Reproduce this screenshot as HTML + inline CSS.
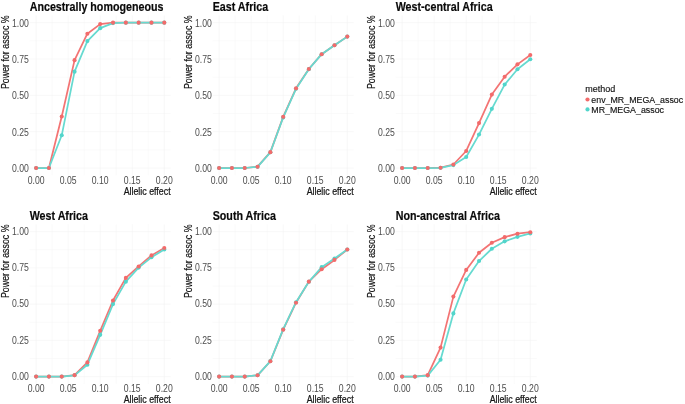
<!DOCTYPE html>
<html><head><meta charset="utf-8"><title>Power for assoc</title>
<style>
html,body{margin:0;padding:0;background:#fff;}
svg{display:block;will-change:transform;font-family:"Liberation Sans",sans-serif;}
</style></head><body>
<svg width="685" height="404" viewBox="0 0 685 404">
<rect width="685" height="404" fill="#fff"/>
<g><!-- panel 0: Ancestrally homogeneous -->
<path d="M52.12 15.38V175.27M84.17 15.38V175.27M116.22 15.38V175.27M148.27 15.38V175.27M29.69 149.83H170.71M29.69 113.49H170.71M29.69 77.16H170.71M29.69 40.82H170.71" stroke="#f5f5f5" stroke-width="0.55" fill="none"/>
<path d="M36.10 15.38V175.27M68.15 15.38V175.27M100.20 15.38V175.27M132.25 15.38V175.27M164.30 15.38V175.27M29.69 168.00H170.71M29.69 131.66H170.71M29.69 95.33H170.71M29.69 58.99H170.71M29.69 22.65H170.71" stroke="#f3f3f3" stroke-width="0.55" fill="none"/>
<polyline points="36.10,168.00 48.92,168.00 61.74,116.55 74.56,60.15 87.38,33.70 100.20,24.10 113.02,22.65 125.84,22.65 138.66,22.65 151.48,22.65 164.30,22.65" fill="none" stroke="#F37474" stroke-width="1.75" stroke-linejoin="round" stroke-linecap="butt"/>
<polyline points="36.10,168.00 48.92,168.00 61.74,135.30 74.56,71.63 87.38,41.11 100.20,28.17 113.02,23.09 125.84,22.65 138.66,22.65 151.48,22.65 164.30,22.65" fill="none" stroke="#66DAD0" stroke-width="1.75" stroke-linejoin="round" stroke-linecap="butt"/>
<g fill="#52D5CB"><circle cx="36.10" cy="168.00" r="2.05"/><circle cx="48.92" cy="168.00" r="2.05"/><circle cx="61.74" cy="135.30" r="2.05"/><circle cx="74.56" cy="71.63" r="2.05"/><circle cx="87.38" cy="41.11" r="2.05"/><circle cx="100.20" cy="28.17" r="2.05"/><circle cx="113.02" cy="23.09" r="2.05"/><circle cx="125.84" cy="22.65" r="2.05"/><circle cx="138.66" cy="22.65" r="2.05"/><circle cx="151.48" cy="22.65" r="2.05"/><circle cx="164.30" cy="22.65" r="2.05"/></g>
<g fill="#F26B6B"><circle cx="36.10" cy="168.00" r="2.05"/><circle cx="48.92" cy="168.00" r="2.05"/><circle cx="61.74" cy="116.55" r="2.05"/><circle cx="74.56" cy="60.15" r="2.05"/><circle cx="87.38" cy="33.70" r="2.05"/><circle cx="100.20" cy="24.10" r="2.05"/><circle cx="113.02" cy="22.65" r="2.05"/><circle cx="125.84" cy="22.65" r="2.05"/><circle cx="138.66" cy="22.65" r="2.05"/><circle cx="151.48" cy="22.65" r="2.05"/><circle cx="164.30" cy="22.65" r="2.05"/></g>
<text transform="translate(29.69,10.85) scale(0.83,1)" font-size="12.9" font-weight="bold" text-anchor="start" fill="#0a0a0a" stroke="#0a0a0a" stroke-width="0.2">Ancestrally homogeneous</text>
<text transform="translate(28.89,171.90) scale(0.775,1)" font-size="11.2" font-weight="normal" text-anchor="end" fill="#4d4d4d">0.00</text>
<text transform="translate(28.89,135.56) scale(0.775,1)" font-size="11.2" font-weight="normal" text-anchor="end" fill="#4d4d4d">0.25</text>
<text transform="translate(28.89,99.23) scale(0.775,1)" font-size="11.2" font-weight="normal" text-anchor="end" fill="#4d4d4d">0.50</text>
<text transform="translate(28.89,62.89) scale(0.775,1)" font-size="11.2" font-weight="normal" text-anchor="end" fill="#4d4d4d">0.75</text>
<text transform="translate(28.89,26.55) scale(0.775,1)" font-size="11.2" font-weight="normal" text-anchor="end" fill="#4d4d4d">1.00</text>
<text transform="translate(36.10,184.07) scale(0.775,1)" font-size="11.2" font-weight="normal" text-anchor="middle" fill="#4d4d4d">0.00</text>
<text transform="translate(68.15,184.07) scale(0.775,1)" font-size="11.2" font-weight="normal" text-anchor="middle" fill="#4d4d4d">0.05</text>
<text transform="translate(100.20,184.07) scale(0.775,1)" font-size="11.2" font-weight="normal" text-anchor="middle" fill="#4d4d4d">0.10</text>
<text transform="translate(132.25,184.07) scale(0.775,1)" font-size="11.2" font-weight="normal" text-anchor="middle" fill="#4d4d4d">0.15</text>
<text transform="translate(164.30,184.07) scale(0.775,1)" font-size="11.2" font-weight="normal" text-anchor="middle" fill="#4d4d4d">0.20</text>
<text transform="translate(170.61,194.67) scale(0.79,1)" font-size="11.2" font-weight="normal" text-anchor="end" fill="#151515" stroke="#151515" stroke-width="0.25">Allelic effect</text>
<text transform="translate(9.19,15.38) rotate(-90) scale(0.79,1)" font-size="11.2" font-weight="normal" text-anchor="end" fill="#111" stroke="#111" stroke-width="0.18">Power for assoc %</text>
</g>
<g><!-- panel 1: East Africa -->
<path d="M235.12 15.38V175.27M267.17 15.38V175.27M299.23 15.38V175.27M331.27 15.38V175.27M212.69 149.83H353.71M212.69 113.49H353.71M212.69 77.16H353.71M212.69 40.82H353.71" stroke="#f5f5f5" stroke-width="0.55" fill="none"/>
<path d="M219.10 15.38V175.27M251.15 15.38V175.27M283.20 15.38V175.27M315.25 15.38V175.27M347.30 15.38V175.27M212.69 168.00H353.71M212.69 131.66H353.71M212.69 95.33H353.71M212.69 58.99H353.71M212.69 22.65H353.71" stroke="#f3f3f3" stroke-width="0.55" fill="none"/>
<polyline points="219.10,168.00 231.92,168.00 244.74,168.00 257.56,166.69 270.38,152.16 283.20,116.84 296.02,88.35 308.84,69.02 321.66,54.19 334.48,45.32 347.30,36.60" fill="none" stroke="#F37474" stroke-width="1.75" stroke-linejoin="round" stroke-linecap="butt"/>
<polyline points="219.10,168.00 231.92,168.00 244.74,168.00 257.56,166.84 270.38,152.30 283.20,117.42 296.02,88.78 308.84,69.16 321.66,54.19 334.48,45.32 347.30,36.60" fill="none" stroke="#66DAD0" stroke-width="1.75" stroke-linejoin="round" stroke-linecap="butt"/>
<g fill="#52D5CB"><circle cx="219.10" cy="168.00" r="2.05"/><circle cx="231.92" cy="168.00" r="2.05"/><circle cx="244.74" cy="168.00" r="2.05"/><circle cx="257.56" cy="166.84" r="2.05"/><circle cx="270.38" cy="152.30" r="2.05"/><circle cx="283.20" cy="117.42" r="2.05"/><circle cx="296.02" cy="88.78" r="2.05"/><circle cx="308.84" cy="69.16" r="2.05"/><circle cx="321.66" cy="54.19" r="2.05"/><circle cx="334.48" cy="45.32" r="2.05"/><circle cx="347.30" cy="36.60" r="2.05"/></g>
<g fill="#F26B6B"><circle cx="219.10" cy="168.00" r="2.05"/><circle cx="231.92" cy="168.00" r="2.05"/><circle cx="244.74" cy="168.00" r="2.05"/><circle cx="257.56" cy="166.69" r="2.05"/><circle cx="270.38" cy="152.16" r="2.05"/><circle cx="283.20" cy="116.84" r="2.05"/><circle cx="296.02" cy="88.35" r="2.05"/><circle cx="308.84" cy="69.02" r="2.05"/><circle cx="321.66" cy="54.19" r="2.05"/><circle cx="334.48" cy="45.32" r="2.05"/><circle cx="347.30" cy="36.60" r="2.05"/></g>
<text transform="translate(212.69,10.85) scale(0.83,1)" font-size="12.9" font-weight="bold" text-anchor="start" fill="#0a0a0a" stroke="#0a0a0a" stroke-width="0.2">East Africa</text>
<text transform="translate(211.89,171.90) scale(0.775,1)" font-size="11.2" font-weight="normal" text-anchor="end" fill="#4d4d4d">0.00</text>
<text transform="translate(211.89,135.56) scale(0.775,1)" font-size="11.2" font-weight="normal" text-anchor="end" fill="#4d4d4d">0.25</text>
<text transform="translate(211.89,99.23) scale(0.775,1)" font-size="11.2" font-weight="normal" text-anchor="end" fill="#4d4d4d">0.50</text>
<text transform="translate(211.89,62.89) scale(0.775,1)" font-size="11.2" font-weight="normal" text-anchor="end" fill="#4d4d4d">0.75</text>
<text transform="translate(211.89,26.55) scale(0.775,1)" font-size="11.2" font-weight="normal" text-anchor="end" fill="#4d4d4d">1.00</text>
<text transform="translate(219.10,184.07) scale(0.775,1)" font-size="11.2" font-weight="normal" text-anchor="middle" fill="#4d4d4d">0.00</text>
<text transform="translate(251.15,184.07) scale(0.775,1)" font-size="11.2" font-weight="normal" text-anchor="middle" fill="#4d4d4d">0.05</text>
<text transform="translate(283.20,184.07) scale(0.775,1)" font-size="11.2" font-weight="normal" text-anchor="middle" fill="#4d4d4d">0.10</text>
<text transform="translate(315.25,184.07) scale(0.775,1)" font-size="11.2" font-weight="normal" text-anchor="middle" fill="#4d4d4d">0.15</text>
<text transform="translate(347.30,184.07) scale(0.775,1)" font-size="11.2" font-weight="normal" text-anchor="middle" fill="#4d4d4d">0.20</text>
<text transform="translate(353.61,194.67) scale(0.79,1)" font-size="11.2" font-weight="normal" text-anchor="end" fill="#151515" stroke="#151515" stroke-width="0.25">Allelic effect</text>
<text transform="translate(191.59,15.38) rotate(-90) scale(0.79,1)" font-size="11.2" font-weight="normal" text-anchor="end" fill="#111" stroke="#111" stroke-width="0.18">Power for assoc %</text>
</g>
<g><!-- panel 2: West-central Africa -->
<path d="M418.12 15.38V175.27M450.18 15.38V175.27M482.23 15.38V175.27M514.27 15.38V175.27M395.69 149.83H536.71M395.69 113.49H536.71M395.69 77.16H536.71M395.69 40.82H536.71" stroke="#f5f5f5" stroke-width="0.55" fill="none"/>
<path d="M402.10 15.38V175.27M434.15 15.38V175.27M466.20 15.38V175.27M498.25 15.38V175.27M530.30 15.38V175.27M395.69 168.00H536.71M395.69 131.66H536.71M395.69 95.33H536.71M395.69 58.99H536.71M395.69 22.65H536.71" stroke="#f3f3f3" stroke-width="0.55" fill="none"/>
<polyline points="402.10,168.00 414.92,168.00 427.74,168.00 440.56,167.71 453.38,164.51 466.20,150.99 479.02,123.09 491.84,94.60 504.66,76.72 517.48,64.37 530.30,55.06" fill="none" stroke="#F37474" stroke-width="1.75" stroke-linejoin="round" stroke-linecap="butt"/>
<polyline points="402.10,168.00 414.92,168.00 427.74,168.00 440.56,167.85 453.38,165.09 466.20,156.95 479.02,134.57 491.84,108.84 504.66,84.57 517.48,69.31 530.30,59.28" fill="none" stroke="#66DAD0" stroke-width="1.75" stroke-linejoin="round" stroke-linecap="butt"/>
<g fill="#52D5CB"><circle cx="402.10" cy="168.00" r="2.05"/><circle cx="414.92" cy="168.00" r="2.05"/><circle cx="427.74" cy="168.00" r="2.05"/><circle cx="440.56" cy="167.85" r="2.05"/><circle cx="453.38" cy="165.09" r="2.05"/><circle cx="466.20" cy="156.95" r="2.05"/><circle cx="479.02" cy="134.57" r="2.05"/><circle cx="491.84" cy="108.84" r="2.05"/><circle cx="504.66" cy="84.57" r="2.05"/><circle cx="517.48" cy="69.31" r="2.05"/><circle cx="530.30" cy="59.28" r="2.05"/></g>
<g fill="#F26B6B"><circle cx="402.10" cy="168.00" r="2.05"/><circle cx="414.92" cy="168.00" r="2.05"/><circle cx="427.74" cy="168.00" r="2.05"/><circle cx="440.56" cy="167.71" r="2.05"/><circle cx="453.38" cy="164.51" r="2.05"/><circle cx="466.20" cy="150.99" r="2.05"/><circle cx="479.02" cy="123.09" r="2.05"/><circle cx="491.84" cy="94.60" r="2.05"/><circle cx="504.66" cy="76.72" r="2.05"/><circle cx="517.48" cy="64.37" r="2.05"/><circle cx="530.30" cy="55.06" r="2.05"/></g>
<text transform="translate(395.69,10.85) scale(0.83,1)" font-size="12.9" font-weight="bold" text-anchor="start" fill="#0a0a0a" stroke="#0a0a0a" stroke-width="0.2">West-central Africa</text>
<text transform="translate(394.89,171.90) scale(0.775,1)" font-size="11.2" font-weight="normal" text-anchor="end" fill="#4d4d4d">0.00</text>
<text transform="translate(394.89,135.56) scale(0.775,1)" font-size="11.2" font-weight="normal" text-anchor="end" fill="#4d4d4d">0.25</text>
<text transform="translate(394.89,99.23) scale(0.775,1)" font-size="11.2" font-weight="normal" text-anchor="end" fill="#4d4d4d">0.50</text>
<text transform="translate(394.89,62.89) scale(0.775,1)" font-size="11.2" font-weight="normal" text-anchor="end" fill="#4d4d4d">0.75</text>
<text transform="translate(394.89,26.55) scale(0.775,1)" font-size="11.2" font-weight="normal" text-anchor="end" fill="#4d4d4d">1.00</text>
<text transform="translate(402.10,184.07) scale(0.775,1)" font-size="11.2" font-weight="normal" text-anchor="middle" fill="#4d4d4d">0.00</text>
<text transform="translate(434.15,184.07) scale(0.775,1)" font-size="11.2" font-weight="normal" text-anchor="middle" fill="#4d4d4d">0.05</text>
<text transform="translate(466.20,184.07) scale(0.775,1)" font-size="11.2" font-weight="normal" text-anchor="middle" fill="#4d4d4d">0.10</text>
<text transform="translate(498.25,184.07) scale(0.775,1)" font-size="11.2" font-weight="normal" text-anchor="middle" fill="#4d4d4d">0.15</text>
<text transform="translate(530.30,184.07) scale(0.775,1)" font-size="11.2" font-weight="normal" text-anchor="middle" fill="#4d4d4d">0.20</text>
<text transform="translate(536.61,194.67) scale(0.79,1)" font-size="11.2" font-weight="normal" text-anchor="end" fill="#151515" stroke="#151515" stroke-width="0.25">Allelic effect</text>
<text transform="translate(374.59,15.38) rotate(-90) scale(0.79,1)" font-size="11.2" font-weight="normal" text-anchor="end" fill="#111" stroke="#111" stroke-width="0.18">Power for assoc %</text>
</g>
<g><!-- panel 3: West Africa -->
<path d="M52.12 224.40V383.85M84.17 224.40V383.85M116.22 224.40V383.85M148.27 224.40V383.85M29.69 358.48H170.71M29.69 322.24H170.71M29.69 286.01H170.71M29.69 249.77H170.71" stroke="#f5f5f5" stroke-width="0.55" fill="none"/>
<path d="M36.10 224.40V383.85M68.15 224.40V383.85M100.20 224.40V383.85M132.25 224.40V383.85M164.30 224.40V383.85M29.69 376.60H170.71M29.69 340.36H170.71M29.69 304.12H170.71M29.69 267.89H170.71M29.69 231.65H170.71" stroke="#f3f3f3" stroke-width="0.55" fill="none"/>
<polyline points="36.10,376.60 48.92,376.60 61.74,376.60 74.56,375.15 87.38,362.39 100.20,330.80 113.02,300.50 125.84,277.89 138.66,266.44 151.48,255.42 164.30,248.03" fill="none" stroke="#F37474" stroke-width="1.75" stroke-linejoin="round" stroke-linecap="butt"/>
<polyline points="36.10,376.60 48.92,376.60 61.74,376.60 74.56,375.30 87.38,364.71 100.20,334.85 113.02,304.12 125.84,281.66 138.66,267.60 151.48,257.31 164.30,249.48" fill="none" stroke="#66DAD0" stroke-width="1.75" stroke-linejoin="round" stroke-linecap="butt"/>
<g fill="#52D5CB"><circle cx="36.10" cy="376.60" r="2.05"/><circle cx="48.92" cy="376.60" r="2.05"/><circle cx="61.74" cy="376.60" r="2.05"/><circle cx="74.56" cy="375.30" r="2.05"/><circle cx="87.38" cy="364.71" r="2.05"/><circle cx="100.20" cy="334.85" r="2.05"/><circle cx="113.02" cy="304.12" r="2.05"/><circle cx="125.84" cy="281.66" r="2.05"/><circle cx="138.66" cy="267.60" r="2.05"/><circle cx="151.48" cy="257.31" r="2.05"/><circle cx="164.30" cy="249.48" r="2.05"/></g>
<g fill="#F26B6B"><circle cx="36.10" cy="376.60" r="2.05"/><circle cx="48.92" cy="376.60" r="2.05"/><circle cx="61.74" cy="376.60" r="2.05"/><circle cx="74.56" cy="375.15" r="2.05"/><circle cx="87.38" cy="362.39" r="2.05"/><circle cx="100.20" cy="330.80" r="2.05"/><circle cx="113.02" cy="300.50" r="2.05"/><circle cx="125.84" cy="277.89" r="2.05"/><circle cx="138.66" cy="266.44" r="2.05"/><circle cx="151.48" cy="255.42" r="2.05"/><circle cx="164.30" cy="248.03" r="2.05"/></g>
<text transform="translate(29.69,219.85) scale(0.83,1)" font-size="12.9" font-weight="bold" text-anchor="start" fill="#0a0a0a" stroke="#0a0a0a" stroke-width="0.2">West Africa</text>
<text transform="translate(28.89,379.90) scale(0.775,1)" font-size="11.2" font-weight="normal" text-anchor="end" fill="#4d4d4d">0.00</text>
<text transform="translate(28.89,343.66) scale(0.775,1)" font-size="11.2" font-weight="normal" text-anchor="end" fill="#4d4d4d">0.25</text>
<text transform="translate(28.89,307.42) scale(0.775,1)" font-size="11.2" font-weight="normal" text-anchor="end" fill="#4d4d4d">0.50</text>
<text transform="translate(28.89,271.19) scale(0.775,1)" font-size="11.2" font-weight="normal" text-anchor="end" fill="#4d4d4d">0.75</text>
<text transform="translate(28.89,234.95) scale(0.775,1)" font-size="11.2" font-weight="normal" text-anchor="end" fill="#4d4d4d">1.00</text>
<text transform="translate(36.10,392.05) scale(0.775,1)" font-size="11.2" font-weight="normal" text-anchor="middle" fill="#4d4d4d">0.00</text>
<text transform="translate(68.15,392.05) scale(0.775,1)" font-size="11.2" font-weight="normal" text-anchor="middle" fill="#4d4d4d">0.05</text>
<text transform="translate(100.20,392.05) scale(0.775,1)" font-size="11.2" font-weight="normal" text-anchor="middle" fill="#4d4d4d">0.10</text>
<text transform="translate(132.25,392.05) scale(0.775,1)" font-size="11.2" font-weight="normal" text-anchor="middle" fill="#4d4d4d">0.15</text>
<text transform="translate(164.30,392.05) scale(0.775,1)" font-size="11.2" font-weight="normal" text-anchor="middle" fill="#4d4d4d">0.20</text>
<text transform="translate(170.61,402.65) scale(0.79,1)" font-size="11.2" font-weight="normal" text-anchor="end" fill="#151515" stroke="#151515" stroke-width="0.25">Allelic effect</text>
<text transform="translate(9.19,224.40) rotate(-90) scale(0.79,1)" font-size="11.2" font-weight="normal" text-anchor="end" fill="#111" stroke="#111" stroke-width="0.18">Power for assoc %</text>
</g>
<g><!-- panel 4: South Africa -->
<path d="M235.12 224.40V383.85M267.17 224.40V383.85M299.23 224.40V383.85M331.27 224.40V383.85M212.69 358.48H353.71M212.69 322.24H353.71M212.69 286.01H353.71M212.69 249.77H353.71" stroke="#f5f5f5" stroke-width="0.55" fill="none"/>
<path d="M219.10 224.40V383.85M251.15 224.40V383.85M283.20 224.40V383.85M315.25 224.40V383.85M347.30 224.40V383.85M212.69 376.60H353.71M212.69 340.36H353.71M212.69 304.12H353.71M212.69 267.89H353.71M212.69 231.65H353.71" stroke="#f3f3f3" stroke-width="0.55" fill="none"/>
<polyline points="219.10,376.60 231.92,376.60 244.74,376.60 257.56,375.30 270.38,361.24 283.20,329.64 296.02,302.68 308.84,281.66 321.66,269.19 334.48,259.92 347.30,249.48" fill="none" stroke="#F37474" stroke-width="1.75" stroke-linejoin="round" stroke-linecap="butt"/>
<polyline points="219.10,376.60 231.92,376.60 244.74,376.60 257.56,375.30 270.38,361.09 283.20,329.20 296.02,302.24 308.84,281.80 321.66,267.16 334.48,258.47 347.30,249.48" fill="none" stroke="#66DAD0" stroke-width="1.75" stroke-linejoin="round" stroke-linecap="butt"/>
<g fill="#52D5CB"><circle cx="219.10" cy="376.60" r="2.05"/><circle cx="231.92" cy="376.60" r="2.05"/><circle cx="244.74" cy="376.60" r="2.05"/><circle cx="257.56" cy="375.30" r="2.05"/><circle cx="270.38" cy="361.09" r="2.05"/><circle cx="283.20" cy="329.20" r="2.05"/><circle cx="296.02" cy="302.24" r="2.05"/><circle cx="308.84" cy="281.80" r="2.05"/><circle cx="321.66" cy="267.16" r="2.05"/><circle cx="334.48" cy="258.47" r="2.05"/><circle cx="347.30" cy="249.48" r="2.05"/></g>
<g fill="#F26B6B"><circle cx="219.10" cy="376.60" r="2.05"/><circle cx="231.92" cy="376.60" r="2.05"/><circle cx="244.74" cy="376.60" r="2.05"/><circle cx="257.56" cy="375.30" r="2.05"/><circle cx="270.38" cy="361.24" r="2.05"/><circle cx="283.20" cy="329.64" r="2.05"/><circle cx="296.02" cy="302.68" r="2.05"/><circle cx="308.84" cy="281.66" r="2.05"/><circle cx="321.66" cy="269.19" r="2.05"/><circle cx="334.48" cy="259.92" r="2.05"/><circle cx="347.30" cy="249.48" r="2.05"/></g>
<text transform="translate(212.69,219.85) scale(0.83,1)" font-size="12.9" font-weight="bold" text-anchor="start" fill="#0a0a0a" stroke="#0a0a0a" stroke-width="0.2">South Africa</text>
<text transform="translate(211.89,379.90) scale(0.775,1)" font-size="11.2" font-weight="normal" text-anchor="end" fill="#4d4d4d">0.00</text>
<text transform="translate(211.89,343.66) scale(0.775,1)" font-size="11.2" font-weight="normal" text-anchor="end" fill="#4d4d4d">0.25</text>
<text transform="translate(211.89,307.42) scale(0.775,1)" font-size="11.2" font-weight="normal" text-anchor="end" fill="#4d4d4d">0.50</text>
<text transform="translate(211.89,271.19) scale(0.775,1)" font-size="11.2" font-weight="normal" text-anchor="end" fill="#4d4d4d">0.75</text>
<text transform="translate(211.89,234.95) scale(0.775,1)" font-size="11.2" font-weight="normal" text-anchor="end" fill="#4d4d4d">1.00</text>
<text transform="translate(219.10,392.05) scale(0.775,1)" font-size="11.2" font-weight="normal" text-anchor="middle" fill="#4d4d4d">0.00</text>
<text transform="translate(251.15,392.05) scale(0.775,1)" font-size="11.2" font-weight="normal" text-anchor="middle" fill="#4d4d4d">0.05</text>
<text transform="translate(283.20,392.05) scale(0.775,1)" font-size="11.2" font-weight="normal" text-anchor="middle" fill="#4d4d4d">0.10</text>
<text transform="translate(315.25,392.05) scale(0.775,1)" font-size="11.2" font-weight="normal" text-anchor="middle" fill="#4d4d4d">0.15</text>
<text transform="translate(347.30,392.05) scale(0.775,1)" font-size="11.2" font-weight="normal" text-anchor="middle" fill="#4d4d4d">0.20</text>
<text transform="translate(353.61,402.65) scale(0.79,1)" font-size="11.2" font-weight="normal" text-anchor="end" fill="#151515" stroke="#151515" stroke-width="0.25">Allelic effect</text>
<text transform="translate(191.59,224.40) rotate(-90) scale(0.79,1)" font-size="11.2" font-weight="normal" text-anchor="end" fill="#111" stroke="#111" stroke-width="0.18">Power for assoc %</text>
</g>
<g><!-- panel 5: Non-ancestral Africa -->
<path d="M418.12 224.40V383.85M450.18 224.40V383.85M482.23 224.40V383.85M514.27 224.40V383.85M395.69 358.48H536.71M395.69 322.24H536.71M395.69 286.01H536.71M395.69 249.77H536.71" stroke="#f5f5f5" stroke-width="0.55" fill="none"/>
<path d="M402.10 224.40V383.85M434.15 224.40V383.85M466.20 224.40V383.85M498.25 224.40V383.85M530.30 224.40V383.85M395.69 376.60H536.71M395.69 340.36H536.71M395.69 304.12H536.71M395.69 267.89H536.71M395.69 231.65H536.71" stroke="#f3f3f3" stroke-width="0.55" fill="none"/>
<polyline points="402.10,376.60 414.92,376.60 427.74,375.15 440.56,347.61 453.38,296.59 466.20,269.92 479.02,252.81 491.84,242.81 504.66,237.16 517.48,233.68 530.30,232.23" fill="none" stroke="#F37474" stroke-width="1.75" stroke-linejoin="round" stroke-linecap="butt"/>
<polyline points="402.10,376.60 414.92,376.60 427.74,375.59 440.56,359.79 453.38,313.40 466.20,279.48 479.02,261.07 491.84,248.75 504.66,241.36 517.48,236.87 530.30,233.39" fill="none" stroke="#66DAD0" stroke-width="1.75" stroke-linejoin="round" stroke-linecap="butt"/>
<g fill="#52D5CB"><circle cx="402.10" cy="376.60" r="2.05"/><circle cx="414.92" cy="376.60" r="2.05"/><circle cx="427.74" cy="375.59" r="2.05"/><circle cx="440.56" cy="359.79" r="2.05"/><circle cx="453.38" cy="313.40" r="2.05"/><circle cx="466.20" cy="279.48" r="2.05"/><circle cx="479.02" cy="261.07" r="2.05"/><circle cx="491.84" cy="248.75" r="2.05"/><circle cx="504.66" cy="241.36" r="2.05"/><circle cx="517.48" cy="236.87" r="2.05"/><circle cx="530.30" cy="233.39" r="2.05"/></g>
<g fill="#F26B6B"><circle cx="402.10" cy="376.60" r="2.05"/><circle cx="414.92" cy="376.60" r="2.05"/><circle cx="427.74" cy="375.15" r="2.05"/><circle cx="440.56" cy="347.61" r="2.05"/><circle cx="453.38" cy="296.59" r="2.05"/><circle cx="466.20" cy="269.92" r="2.05"/><circle cx="479.02" cy="252.81" r="2.05"/><circle cx="491.84" cy="242.81" r="2.05"/><circle cx="504.66" cy="237.16" r="2.05"/><circle cx="517.48" cy="233.68" r="2.05"/><circle cx="530.30" cy="232.23" r="2.05"/></g>
<text transform="translate(395.69,219.85) scale(0.83,1)" font-size="12.9" font-weight="bold" text-anchor="start" fill="#0a0a0a" stroke="#0a0a0a" stroke-width="0.2">Non-ancestral Africa</text>
<text transform="translate(394.89,379.90) scale(0.775,1)" font-size="11.2" font-weight="normal" text-anchor="end" fill="#4d4d4d">0.00</text>
<text transform="translate(394.89,343.66) scale(0.775,1)" font-size="11.2" font-weight="normal" text-anchor="end" fill="#4d4d4d">0.25</text>
<text transform="translate(394.89,307.42) scale(0.775,1)" font-size="11.2" font-weight="normal" text-anchor="end" fill="#4d4d4d">0.50</text>
<text transform="translate(394.89,271.19) scale(0.775,1)" font-size="11.2" font-weight="normal" text-anchor="end" fill="#4d4d4d">0.75</text>
<text transform="translate(394.89,234.95) scale(0.775,1)" font-size="11.2" font-weight="normal" text-anchor="end" fill="#4d4d4d">1.00</text>
<text transform="translate(402.10,392.05) scale(0.775,1)" font-size="11.2" font-weight="normal" text-anchor="middle" fill="#4d4d4d">0.00</text>
<text transform="translate(434.15,392.05) scale(0.775,1)" font-size="11.2" font-weight="normal" text-anchor="middle" fill="#4d4d4d">0.05</text>
<text transform="translate(466.20,392.05) scale(0.775,1)" font-size="11.2" font-weight="normal" text-anchor="middle" fill="#4d4d4d">0.10</text>
<text transform="translate(498.25,392.05) scale(0.775,1)" font-size="11.2" font-weight="normal" text-anchor="middle" fill="#4d4d4d">0.15</text>
<text transform="translate(530.30,392.05) scale(0.775,1)" font-size="11.2" font-weight="normal" text-anchor="middle" fill="#4d4d4d">0.20</text>
<text transform="translate(536.61,402.65) scale(0.79,1)" font-size="11.2" font-weight="normal" text-anchor="end" fill="#151515" stroke="#151515" stroke-width="0.25">Allelic effect</text>
<text transform="translate(374.59,224.40) rotate(-90) scale(0.79,1)" font-size="11.2" font-weight="normal" text-anchor="end" fill="#111" stroke="#111" stroke-width="0.18">Power for assoc %</text>
</g>
<g><!-- legend -->
<text transform="translate(585.30,92.00) scale(0.968,1)" font-size="9.3" font-weight="normal" text-anchor="start" fill="#111" stroke="#111" stroke-width="0.15">method</text>
<circle cx="587.5" cy="99.5" r="2.0999999999999996" fill="#F26B6B"/><circle cx="587.5" cy="109.45" r="2.0999999999999996" fill="#52D5CB"/>
<text transform="translate(591.30,102.85) scale(0.962,1)" font-size="9.2" font-weight="normal" text-anchor="start" fill="#111" stroke="#111" stroke-width="0.15">env_MR_MEGA_assoc</text>
<text transform="translate(591.30,112.75) scale(0.962,1)" font-size="9.2" font-weight="normal" text-anchor="start" fill="#111" stroke="#111" stroke-width="0.15">MR_MEGA_assoc</text>
</g>
</svg></body></html>
